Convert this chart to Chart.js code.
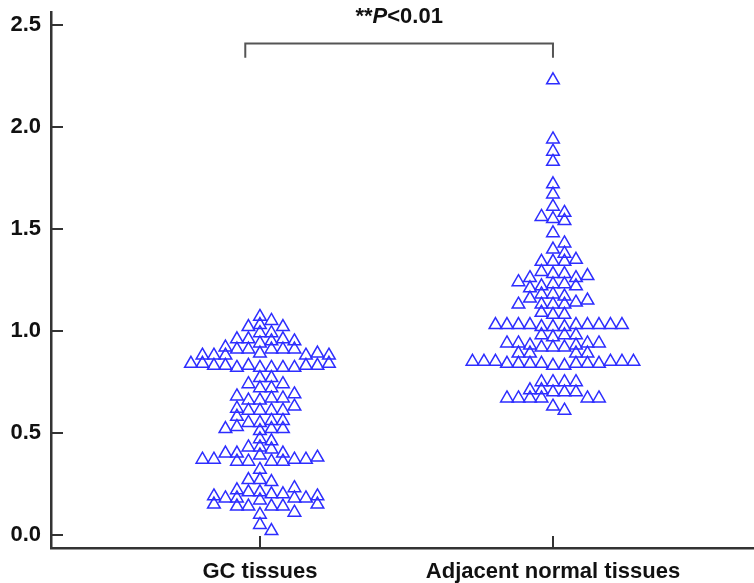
<!DOCTYPE html>
<html>
<head>
<meta charset="utf-8">
<script src="https://cdn.jsdelivr.net/npm/chart.js@4.4.1/dist/chart.umd.min.js"></script>
<style>
  body { margin: 0; background: #fff; }
</style>
</head>
<body>
<canvas id="chart" width="754" height="583"></canvas>
<script>
// Categories and tick labels
const categories = ['GC tissues', 'Adjacent normal tissues'];
const yTicks = [0, 0.5, 1.0, 1.5, 2.0, 2.5];
const sigLabel = ['**', 'P', '<0.01'];

// Relative expression (one value per triangle)
const gcValues = [
    1.07, 1.05, 1.03, 1.02, 1.02, 0.99, 0.99, 0.96, 0.96, 0.96, 0.94, 0.95, 0.95,
    0.91, 0.91, 0.91, 0.91, 0.91, 0.92, 0.89, 0.88, 0.88, 0.88, 0.89, 0.88, 0.88,
    0.82, 0.82, 0.83, 0.82, 0.82, 0.82, 0.83, 0.83, 0.83, 0.83, 0.84, 0.84, 0.84,
    0.77, 0.77, 0.74, 0.72, 0.72, 0.74,
    0.66, 0.67, 0.66, 0.67, 0.68, 0.69,
    0.61, 0.61, 0.61, 0.61, 0.62, 0.63,
    0.55, 0.56, 0.55, 0.58, 0.56,
    0.53, 0.52, 0.52, 0.51, 0.52,
    0.47, 0.46, 0.43, 0.43, 0.42, 0.40, 0.39, 0.40, 0.40,
    0.36, 0.36, 0.36, 0.36, 0.37, 0.37, 0.37, 0.37, 0.38,
    0.32, 0.27, 0.26, 0.27,
    0.21, 0.20, 0.21, 0.20, 0.22, 0.23,
    0.18, 0.18, 0.17, 0.18, 0.18, 0.19, 0.19,
    0.14, 0.14, 0.14, 0.14, 0.15, 0.15,
    0.10, 0.11, 0.05, 0.02
];
const adjValues = [
    2.23, 1.94, 1.88, 1.83, 1.72, 1.67, 1.61, 1.58, 1.55, 1.56, 1.54,
    1.48, 1.40, 1.43, 1.38, 1.34, 1.34, 1.34, 1.35,
    1.28, 1.28, 1.29, 1.26, 1.26, 1.27,
    1.23, 1.23, 1.22, 1.22, 1.21, 1.24,
    1.18, 1.18, 1.17, 1.16,
    1.13, 1.13, 1.14, 1.13, 1.13, 1.15,
    1.08, 1.08, 1.09,
    1.02, 1.02, 1.02, 1.03, 1.03, 1.03, 1.03, 1.03, 1.03, 1.03, 1.03, 1.03,
    0.97, 0.98, 0.98, 0.98,
    0.92, 0.92, 0.92, 0.93, 0.93, 0.94, 0.94, 0.94, 0.94,
    0.89, 0.89, 0.89, 0.89,
    0.83, 0.83, 0.84, 0.84, 0.84, 0.84, 0.84, 0.84, 0.84, 0.85, 0.85, 0.85, 0.85, 0.85, 0.85,
    0.75, 0.75, 0.75, 0.75,
    0.70, 0.70, 0.71, 0.70, 0.71,
    0.67, 0.67, 0.67, 0.67, 0.67, 0.67,
    0.63, 0.61
];

// Axis ranges
const xMin = 0.287, xMax = 2.686;
const yMin = -0.064, yMax = 2.564;

// Significance bracket (x span, top and foot of the bracket, label height)
const bracketX = [0.95, 2.0];
const bracketY = [2.41, 2.34];
const sigY = 2.54;

// Simple beeswarm: spread points sideways so triangles don't pile up
function swarm(values, center) {
    const pxX = 703 / (xMax - xMin);
    const pxY = 536 / (yMax - yMin);
    const w = 11.5, h = 7;
    const placed = [];
    values.forEach(v => {
        const py = v * pxY;
        const near = placed.filter(p => Math.abs(p.py - py) < h);
        const cands = [0];
        near.forEach(p => { cands.push(p.px + w, p.px - w); });
        cands.sort((a, b) => Math.abs(a) - Math.abs(b));
        let px = 0;
        for (const c of cands) {
            if (near.every(p => Math.abs(p.px - c) >= w - 0.01)) { px = c; break; }
        }
        placed.push({ px, py, v });
    });
    return placed.map(p => ({ x: center + p.px / pxX, y: p.v }));
}

const pointStyle = {
    pointStyle: 'triangle',
    pointRadius: 7.3,
    pointHoverRadius: 7.3,
    borderWidth: 1.5,
    borderColor: 'rgb(45, 45, 255)',
    backgroundColor: 'rgba(0, 0, 0, 0)',
    clip: false
};

// Inward tick marks, the bracket and the P label
const annotate = {
    id: 'annotate',
    afterDraw(chart) {
        const { ctx, scales: { x, y } } = chart;
        ctx.save();
        ctx.strokeStyle = '#333';
        ctx.lineWidth = 2;
        yTicks.forEach(t => {
            const py = Math.round(y.getPixelForValue(t));
            ctx.beginPath();
            ctx.moveTo(x.left, py);
            ctx.lineTo(x.left + 12, py);
            ctx.stroke();
        });
        [1, 2].forEach(c => {
            const px = Math.round(x.getPixelForValue(c));
            ctx.beginPath();
            ctx.moveTo(px, y.bottom);
            ctx.lineTo(px, y.bottom - 12);
            ctx.stroke();
        });

        ctx.strokeStyle = '#555';
        ctx.lineWidth = 2;
        const x0 = x.getPixelForValue(bracketX[0]);
        const x1 = x.getPixelForValue(bracketX[1]);
        const yTop = y.getPixelForValue(bracketY[0]);
        const yFoot = y.getPixelForValue(bracketY[1]);
        ctx.beginPath();
        ctx.moveTo(x0, yFoot);
        ctx.lineTo(x0, yTop);
        ctx.lineTo(x1, yTop);
        ctx.lineTo(x1, yFoot);
        ctx.stroke();

        const fonts = ['bold 22px "Liberation Sans"', 'italic bold 22px "Liberation Sans"', 'bold 22px "Liberation Sans"'];
        let total = 0;
        const widths = sigLabel.map((s, i) => { ctx.font = fonts[i]; const m = ctx.measureText(s).width; total += m; return m; });
        let tx = (x0 + x1) / 2 - total / 2;
        const ty = y.getPixelForValue(sigY);
        ctx.fillStyle = '#111';
        ctx.textBaseline = 'middle';
        sigLabel.forEach((s, i) => {
            ctx.font = fonts[i];
            ctx.fillText(s, tx, ty);
            tx += widths[i];
        });
        ctx.restore();
    }
};

new Chart(document.getElementById('chart'), {
    type: 'scatter',
    data: {
        datasets: [
            Object.assign({ label: categories[0], data: swarm(gcValues, 1) }, pointStyle),
            Object.assign({ label: categories[1], data: swarm(adjValues, 2) }, pointStyle)
        ]
    },
    options: {
        responsive: false,
        animation: false,
        events: [],
        layout: { autoPadding: false, padding: { top: 12, right: 0, left: 0, bottom: 0 } },
        plugins: { legend: { display: false }, tooltip: { enabled: false } },
        scales: {
            x: {
                type: 'linear',
                min: xMin,
                max: xMax,
                afterBuildTicks: scale => { scale.ticks = [{ value: 1 }, { value: 2 }]; },
                afterFit: scale => { scale.height = 35; scale.paddingLeft = 0; scale.paddingRight = 0; },
                grid: { display: false },
                border: { display: true, color: '#333', width: 2.5 },
                ticks: {
                    autoSkip: false,
                    maxRotation: 0,
                    padding: 3,
                    color: '#111',
                    font: { family: 'Liberation Sans', size: 22, weight: 'bold' },
                    callback: v => categories[v - 1]
                }
            },
            y: {
                type: 'linear',
                min: yMin,
                max: yMax,
                afterBuildTicks: scale => { scale.ticks = yTicks.map(v => ({ value: v })); },
                afterFit: scale => { scale.width = 51; scale.paddingTop = 0; scale.paddingBottom = 0; },
                grid: { display: false },
                border: { display: true, color: '#333', width: 2.5 },
                ticks: {
                    padding: 2,
                    color: '#111',
                    font: { family: 'Liberation Sans', size: 22, weight: 'bold' },
                    callback: v => v.toFixed(1)
                }
            }
        }
    },
    plugins: [annotate]
});
</script>
</body>
</html>
